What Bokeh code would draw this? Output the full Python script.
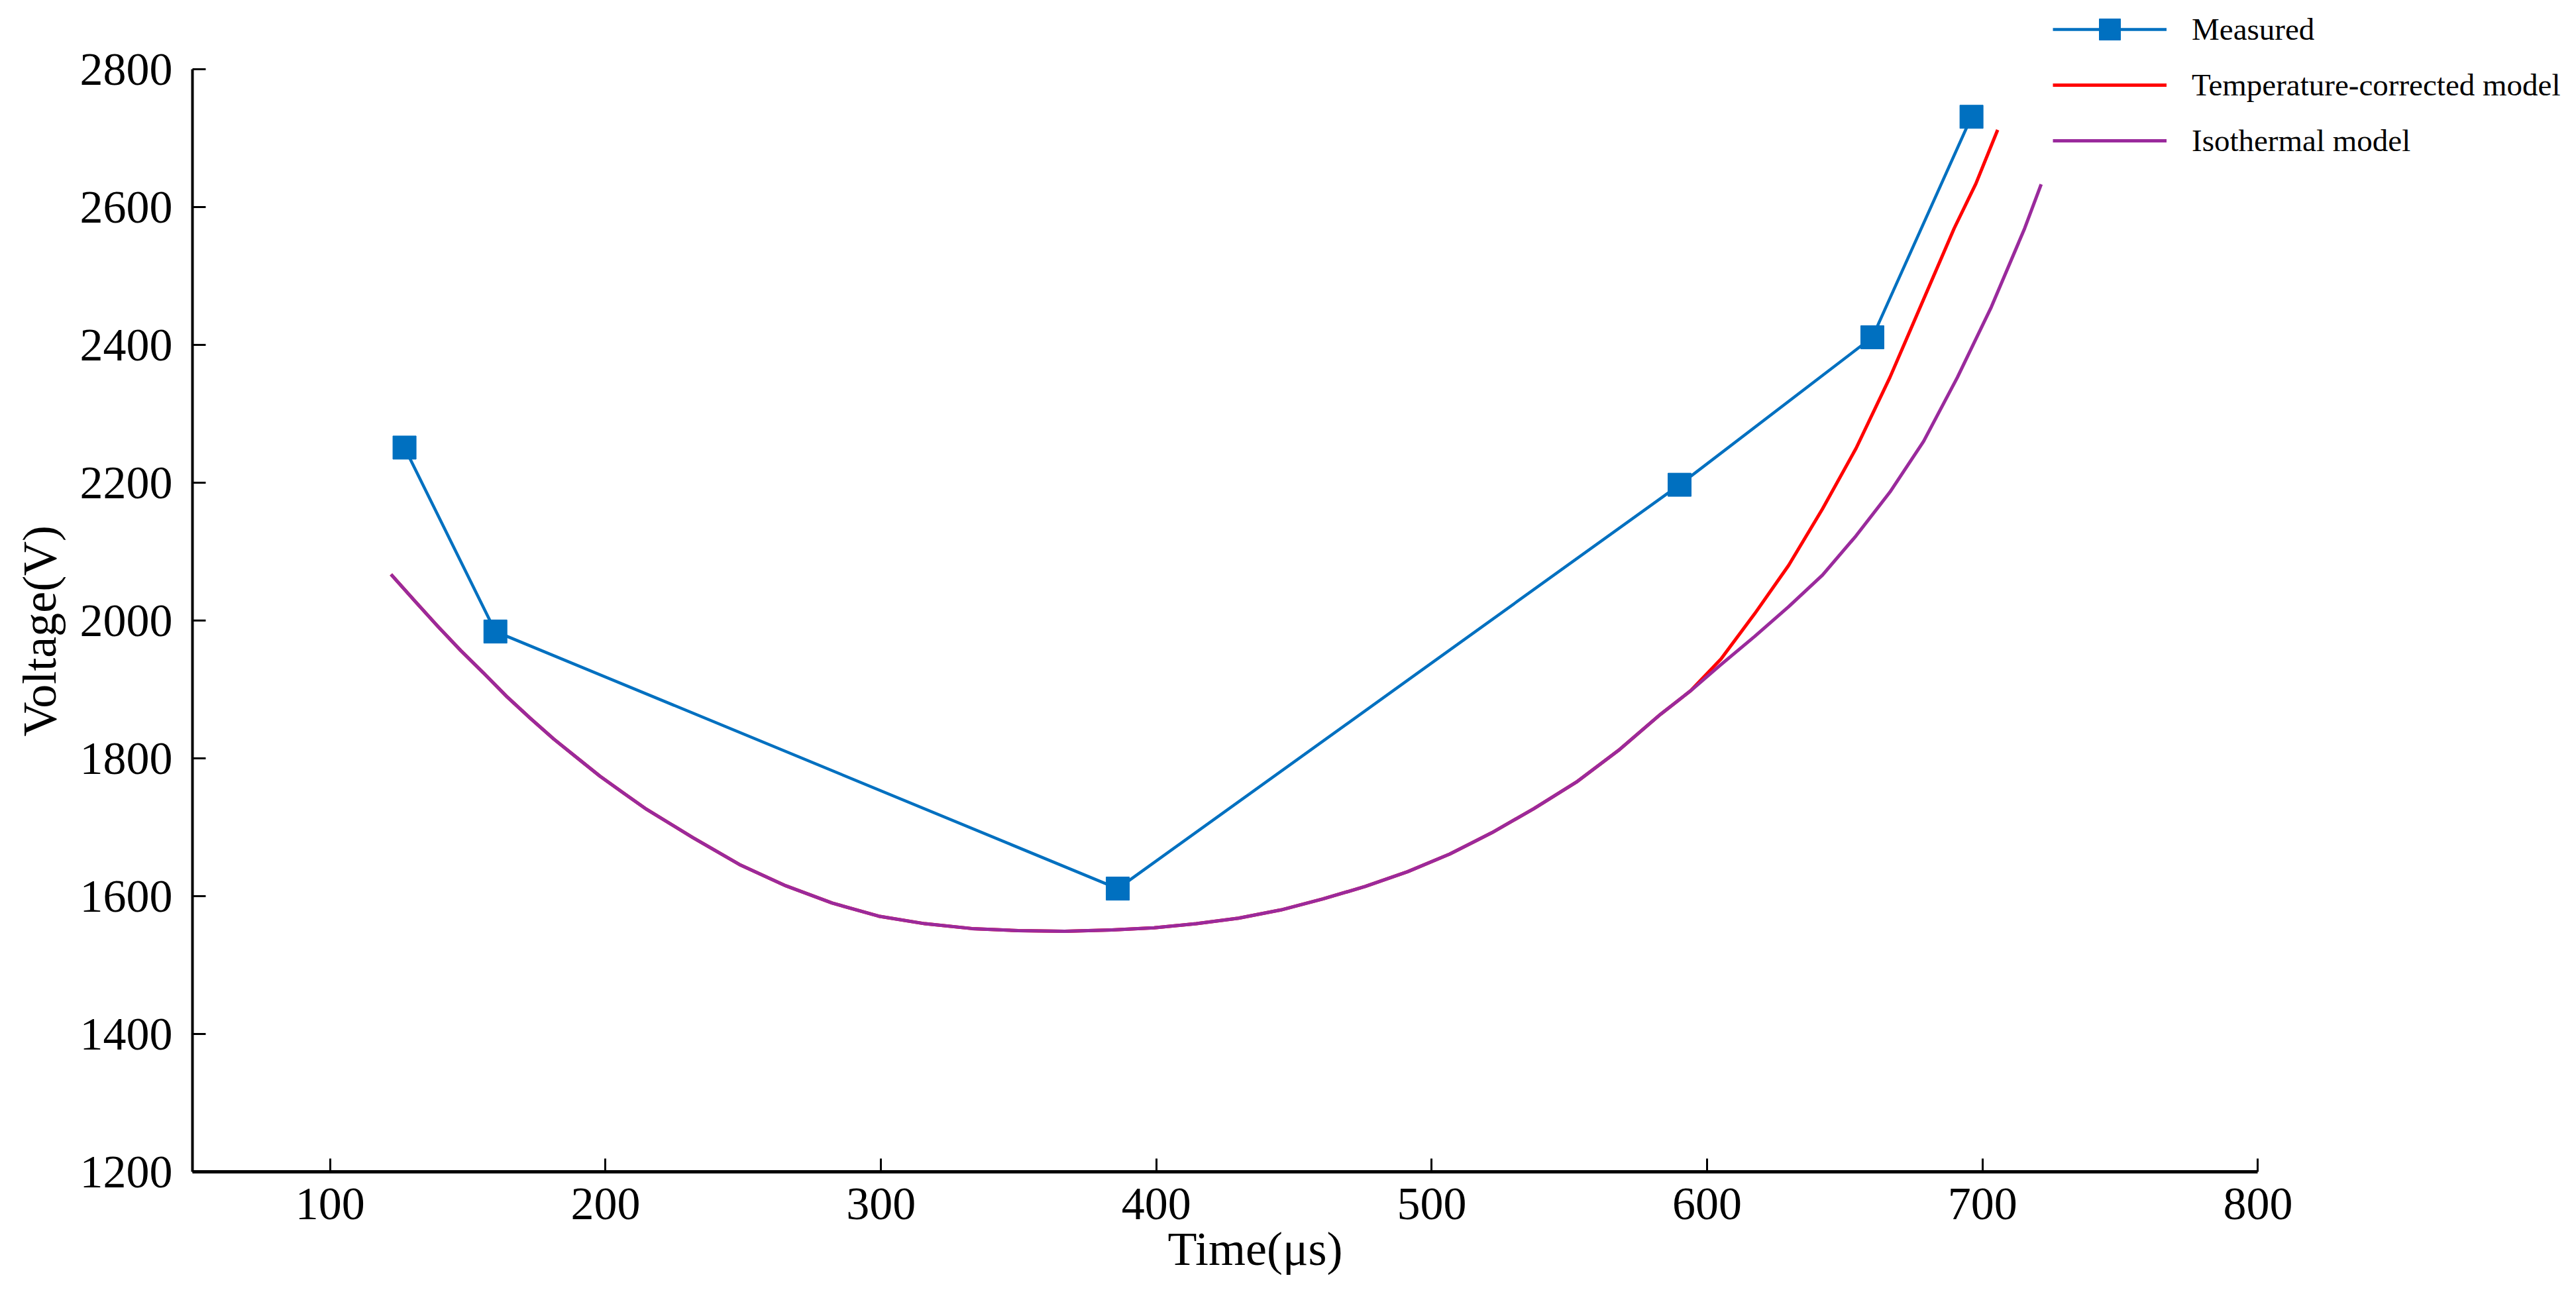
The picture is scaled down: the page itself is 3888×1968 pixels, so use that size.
from bokeh.plotting import figure
from bokeh.models import Range1d, FixedTicker, Legend, LegendItem, Title
from bokeh.embed import file_html
from bokeh.resources import INLINE

# ---- data ----
measured_t = [127, 160, 386, 590, 660, 696]
measured_v = [2251, 1984, 1611, 2197, 2411, 2731]

iso_t = [122.1, 130.6, 139, 147.4, 155.9, 164.3, 172.7, 181.2, 189.6, 198, 206.4, 214.9,
         231.7, 248.6, 265.5, 282.3, 299.2, 316, 333, 349.8, 366.7, 383.8, 399.2, 414.5,
         429.8, 445.2, 460.5, 475.8, 491.2, 506.5, 521.8, 537.1, 552.5, 567.8, 583.1, 594,
         605, 617.3, 629.6, 641.9, 654.1, 666.4, 678.6, 690.9, 703.2, 715.3, 721.3]
iso_v = [2067, 2029, 1992, 1956.5, 1923, 1889, 1858, 1828, 1801, 1774, 1750, 1726,
         1685, 1646, 1615, 1590, 1571, 1560, 1553, 1550, 1549, 1551, 1554, 1560,
         1568, 1580, 1596, 1614, 1635.5, 1661, 1692, 1727, 1765.5, 1811.5, 1864, 1898,
         1936, 1977, 2020, 2066, 2123, 2186.5, 2260, 2353, 2455, 2569, 2633]

temp_t = [122.1, 130.6, 139, 147.4, 155.9, 164.3, 172.7, 181.2, 189.6, 198, 206.4, 214.9,
          231.7, 248.6, 265.5, 282.3, 299.2, 316, 333, 349.8, 366.7, 383.8, 399.2, 414.5,
          429.8, 445.2, 460.5, 475.8, 491.2, 506.5, 521.8, 537.1, 552.5, 567.8, 583.1, 594,
          605, 617.3, 629.6, 641.9, 654.1, 666.4, 678.6, 689.7, 697.6, 705.5]
temp_v = [2067, 2029, 1992, 1956.5, 1923, 1889, 1858, 1828, 1801, 1774, 1750, 1726,
          1685, 1646, 1615, 1590, 1571, 1560, 1553, 1550, 1549, 1551, 1554, 1560,
          1568, 1580, 1596, 1614, 1635.5, 1661, 1692, 1727, 1765.5, 1811.5, 1864, 1898,
          1944, 2010, 2080, 2162, 2250, 2353, 2466, 2569, 2634, 2712]

x_ticks = [100, 200, 300, 400, 500, 600, 700, 800]
y_ticks = [1200, 1400, 1600, 1800, 2000, 2200, 2400, 2600, 2800]
x_axis_span = (50, 800)
y_axis_span = (1200, 2800)

BLUE = "#0070C0"
RED = "#FF0000"
PURPLE = "#9A2A9C"
FONT = "Liberation Serif"

W, H = 3870, 1952
FRAME_BOTTOM = 1768
LEFT, RIGHT, TOP, BOTTOM = 287, 0, 0, H - FRAME_BOTTOM
# axis 50..800 spans canvas 287..3407; 1200..2800 spans canvas 1768..104
px_per_x = (3407 - LEFT) / (x_axis_span[1] - x_axis_span[0])
px_per_y = (FRAME_BOTTOM - 104) / (y_axis_span[1] - y_axis_span[0])
x_end = x_axis_span[0] + (W - RIGHT - LEFT) / px_per_x
y_end = y_axis_span[1] + (104 - TOP) / px_per_y

p = figure(width=W, height=H, output_backend="svg", toolbar_location=None,
           x_range=Range1d(x_axis_span[0], x_end), y_range=Range1d(y_axis_span[0], y_end),
           min_border_left=LEFT, min_border_right=RIGHT, min_border_top=TOP,
           min_border_bottom=BOTTOM)
p.outline_line_color = None
p.xgrid.visible = False
p.ygrid.visible = False
p.background_fill_color = "white"
p.border_fill_color = "white"

r_meas_line = p.line(measured_t, measured_v, line_color=BLUE, line_width=4.5)
r_meas_pts = p.scatter(measured_t, measured_v, marker="square", size=35,
                       fill_color=BLUE, line_color=BLUE)
r_temp = p.line(temp_t, temp_v, line_color=RED, line_width=5, line_join="round")
r_iso = p.line(iso_t, iso_v, line_color=PURPLE, line_width=5, line_join="round")

for ax in (p.xaxis[0], p.yaxis[0]):
    ax.axis_line_color = "black"
    ax.major_tick_line_color = "black"
    ax.major_tick_line_width = 3
    ax.major_tick_in = 20
    ax.major_tick_out = 0
    ax.minor_tick_line_color = None
    ax.major_label_text_font = FONT
    ax.major_label_text_font_size = "70px"
    ax.major_label_text_color = "black"

p.xaxis[0].bounds = x_axis_span
p.yaxis[0].bounds = y_axis_span
p.xaxis[0].axis_line_width = 5
p.yaxis[0].axis_line_width = 4
p.xaxis[0].ticker = FixedTicker(ticks=x_ticks)
p.yaxis[0].ticker = FixedTicker(ticks=y_ticks)
p.xaxis[0].major_label_standoff = 25
p.yaxis[0].major_label_standoff = 30

# axis titles, placed as in the reference
x_title = Title(text="Time(μs)", align="left", offset=1472, standoff=0,
                text_font=FONT, text_font_size="72px", text_font_style="normal",
                text_color="black")
p.add_layout(x_title, "below")
y_title = Title(text="Voltage(V)", align="left", offset=657, standoff=35,
                text_font=FONT, text_font_size="72px", text_font_style="normal",
                text_color="black")
p.add_layout(y_title, "left")

legend = Legend(items=[
    LegendItem(label="Measured", renderers=[r_meas_line, r_meas_pts]),
    LegendItem(label="Temperature-corrected model", renderers=[r_temp]),
    LegendItem(label="Isothermal model", renderers=[r_iso]),
], location=(2808, FRAME_BOTTOM - 252))
legend.border_line_color = None
legend.background_fill_alpha = 0
legend.padding = 0
legend.margin = 0
legend.spacing = 4
legend.glyph_width = 172
legend.glyph_height = 80
legend.label_height = 80
legend.label_standoff = 38
legend.label_text_font = FONT
legend.label_text_font_size = "47px"
legend.label_text_color = "black"
p.add_layout(legend, "center")

open("out.html", "w").write(file_html(p, INLINE))
